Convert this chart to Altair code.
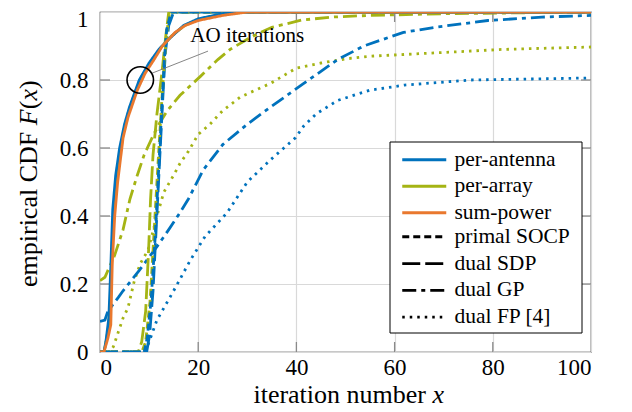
import altair as alt
import pandas as pd

BLUE = "#0072bd"
GREEN = "#a5b414"
ORANGE = "#e9782e"
FONT = "Liberation Serif"

powers = ["per-antenna", "per-array", "sum-power"]
power_colors = [BLUE, GREEN, ORANGE]
styles = ["AO", "primal SOCP", "dual SDP", "dual GP", "dual FP [4]"]
style_dashes = [[1, 0], [7, 4], [18, 5], [14, 5, 4, 5], [2.5, 5]]
x_ticks = [0, 20, 40, 60, 80, 100]
y_ticks = [0, 0.2, 0.4, 0.6, 0.8, 1]

# per-antenna
pa_fp_x = [0, 9.0, 9.5, 11.6, 15, 18.4, 21.4, 25.9, 30, 34.7, 39.8, 41.5, 44, 48.4, 55, 62, 75.5, 88, 100]
pa_fp_y = [0, 0, 0.01, 0.094, 0.18, 0.27, 0.34, 0.41, 0.50, 0.565, 0.63, 0.665, 0.70, 0.74, 0.77, 0.785, 0.80, 0.803, 0.806]
pa_gp_x = [0, 1, 1.6, 3.7, 4.7, 8, 11.6, 14, 16.3, 18, 21, 25, 30, 34.7, 41.5, 48.4, 53.7, 61.8, 68.7, 79, 90, 100]
pa_gp_y = [0.09, 0.094, 0.12, 0.16, 0.18, 0.24, 0.31, 0.36, 0.41, 0.45, 0.535, 0.61, 0.67, 0.72, 0.79, 0.86, 0.90, 0.94, 0.956, 0.975, 0.985, 0.99]
pa_sdp_x = [0, 9.5, 10.1, 10.8, 11.5, 12.2, 12.8, 13.3, 14, 15, 100]
pa_sdp_y = [0, 0, 0.05, 0.18, 0.38, 0.58, 0.75, 0.88, 0.96, 1, 1]
pa_socp_x = [0, 9.0, 9.6, 10.4, 11.2, 12, 12.6, 13.1, 13.6, 14.5, 100]
pa_socp_y = [0, 0, 0.04, 0.15, 0.33, 0.55, 0.72, 0.86, 0.95, 1, 1]
pa_ao_x = [0, 0.8, 1.2, 1.8, 2.2, 2.6, 3.2, 4, 5, 6, 7, 8, 10, 12, 14, 17, 20, 25, 30, 100]
pa_ao_y = [0, 0, 0.03, 0.1, 0.25, 0.42, 0.52, 0.6, 0.67, 0.72, 0.76, 0.8, 0.85, 0.89, 0.92, 0.96, 0.98, 0.995, 1, 1]

# per-array
pr_fp_x = [0, 2, 2.7, 4.7, 5.7, 7, 8.2, 9.8, 11.6, 13, 15, 16.3, 18, 20, 22.4, 25, 28.6, 34.7, 40, 45, 50, 55, 68.7, 82, 100]
pr_fp_y = [0, 0, 0.015, 0.1, 0.13, 0.21, 0.26, 0.3, 0.4, 0.47, 0.52, 0.555, 0.59, 0.64, 0.67, 0.71, 0.75, 0.79, 0.835, 0.85, 0.862, 0.87, 0.88, 0.89, 0.897]
pr_gp_x = [0, 1, 3, 4.7, 6.1, 7.6, 9, 10.6, 12, 13.7, 16.3, 20.4, 24, 26.5, 30, 32.7, 35, 38.8, 41, 47, 55, 70, 100]
pr_gp_y = [0.21, 0.22, 0.285, 0.36, 0.45, 0.52, 0.58, 0.63, 0.67, 0.71, 0.755, 0.81, 0.86, 0.89, 0.92, 0.94, 0.955, 0.968, 0.976, 0.985, 0.99, 0.995, 1.0]
pr_sdp_x = [0, 7.8, 8.5, 9.3, 9.9, 10.3, 10.8, 11.6, 12.6, 13.4, 14, 100]
pr_sdp_y = [0, 0, 0.03, 0.12, 0.3, 0.45, 0.58, 0.7, 0.82, 0.93, 1, 1]
pr_socp_x = [0, 8.5, 9.3, 10.2, 11, 11.8, 12.5, 13.1, 13.6, 14.2, 100]
pr_socp_y = [0, 0, 0.03, 0.15, 0.35, 0.55, 0.72, 0.85, 0.94, 1, 1]
pr_ao_x = [0, 0.8, 1.1, 1.7, 2.2, 2.55, 3.1, 3.8, 4.8, 5.8, 7.2, 8.5, 10.5, 12.4, 14.6, 17.2, 20, 25, 30, 100]
pr_ao_y = [0, 0, 0.02, 0.07, 0.17, 0.34, 0.46, 0.55, 0.65, 0.705, 0.765, 0.81, 0.855, 0.895, 0.93, 0.96, 0.978, 0.993, 1, 1]

# sum-power
sp_ao_x = [0, 0.8, 1.0, 1.6, 2.2, 2.5, 3.0, 3.6, 4.7, 5.7, 7.6, 9.2, 11, 12.7, 15.3, 17.3, 20, 25, 30, 100]
sp_ao_y = [0, 0, 0.01, 0.04, 0.08, 0.26, 0.4, 0.5, 0.63, 0.69, 0.77, 0.82, 0.86, 0.9, 0.94, 0.96, 0.975, 0.99, 1, 1]

series = [
    ("per-antenna", "dual FP [4]", pa_fp_x, pa_fp_y),
    ("per-array", "dual FP [4]", pr_fp_x, pr_fp_y),
    ("per-antenna", "dual GP", pa_gp_x, pa_gp_y),
    ("per-array", "dual GP", pr_gp_x, pr_gp_y),
    ("per-array", "dual SDP", pr_sdp_x, pr_sdp_y),
    ("per-antenna", "dual SDP", pa_sdp_x, pa_sdp_y),
    ("per-array", "primal SOCP", pr_socp_x, pr_socp_y),
    ("per-antenna", "primal SOCP", pa_socp_x, pa_socp_y),
    ("per-array", "AO", pr_ao_x, pr_ao_y),
    ("per-antenna", "AO", pa_ao_x, pa_ao_y),
    ("sum-power", "AO", sp_ao_x, sp_ao_y),
]

rows = []
for k, (p, s, xs_, ys_) in enumerate(series):
    for i, (a, b) in enumerate(zip(xs_, ys_)):
        rows.append(dict(key=k, power=p, style=s, x=a, y=b, i=i))
df = pd.DataFrame(rows)

# annotation
circle_pt = pd.DataFrame({"x": [8.2], "y": [0.8]})
leader = pd.DataFrame({"x": [10.6], "y": [0.82], "x2": [22.0], "y2": [0.885]})
label = pd.DataFrame({"x": [18.4], "y": [0.928], "t": ["AO iterations"]})

# axis title pieces
x_title = ["iteration number", "x"]
y_title = ["empirical CDF", "F", "(", "x", ")"]
y_italic = [False, True, False, True, False]

xs = alt.Scale(domain=[0, 100], nice=False)
ys = alt.Scale(domain=[0, 1], nice=False)
x_enc = alt.X("x:Q", scale=xs, axis=alt.Axis(values=x_ticks, title=None, labelPadding=4))
y_enc = alt.Y("y:Q", scale=ys, axis=alt.Axis(
    values=y_ticks, format="~g", title=None, labelPadding=12,
    labelBaseline={"condition": {"test": "datum.value === 1", "value": "top"}, "value": "middle"},
    labelOffset={"condition": {"test": "datum.value === 1", "value": -4}, "value": 0},
))

# inward tick marks (10 px long), built from the tick values
TX = 10 / 340.0
TYX = 10 / 4.91
inner_x = x_ticks[1:-1]
inner_y = y_ticks[1:-1]
tick_df = pd.DataFrame(
    [dict(x=t, x2=t, y=0, y2=TX) for t in inner_x]
    + [dict(x=t, x2=t, y=1, y2=1 - TX) for t in inner_x]
    + [dict(x=0, x2=TYX, y=t, y2=t) for t in inner_y]
    + [dict(x=100, x2=100 - TYX, y=t, y2=t) for t in inner_y]
)
ticks = alt.Chart(tick_df).mark_rule(color="#8a8a8a", strokeWidth=1.3).encode(
    x=alt.X("x:Q", scale=xs), x2="x2:Q", y=alt.Y("y:Q", scale=ys), y2="y2:Q")

SYM = "M-1,0L7,0"

lines = alt.Chart(df).mark_line(strokeWidth=2.8, clip=True).encode(
    x=x_enc,
    y=y_enc,
    color=alt.Color("power:N", scale=alt.Scale(domain=powers, range=power_colors),
                    legend=alt.Legend(title=None, orient="none", legendX=297, legendY=137,
                                      symbolType=SYM, symbolSize=121, symbolStrokeWidth=3,
                                      labelOffset=36, rowPadding=3.5, padding=0)),
    strokeDash=alt.StrokeDash("style:N", scale=alt.Scale(domain=styles, range=style_dashes),
                              legend=alt.Legend(title=None, orient="none", legendX=297, legendY=214,
                                                values=styles[1:],
                                                symbolType=SYM, symbolSize=121, symbolStrokeWidth=2.8,
                                                symbolStrokeColor="black",
                                                labelOffset=36, rowPadding=3.8, padding=0)),
    detail="key:N",
    order="i:Q",
)

circ = alt.Chart(circle_pt).mark_point(shape="circle", size=700, filled=False,
                                       color="black", strokeWidth=1.6, opacity=1).encode(
    x=alt.X("x:Q", scale=xs), y=alt.Y("y:Q", scale=ys))
lead = alt.Chart(leader).mark_rule(color="#777777", strokeWidth=0.9).encode(
    x=alt.X("x:Q", scale=xs), y=alt.Y("y:Q", scale=ys), x2="x2:Q", y2="y2:Q")
txt = alt.Chart(label).mark_text(align="left", baseline="middle", font=FONT, fontSize=21,
                                 color="black").encode(
    x=alt.X("x:Q", scale=xs), y=alt.Y("y:Q", scale=ys), text="t:N")

frame = alt.Chart(label).mark_rect(fill="white", stroke="black", strokeWidth=1).encode(
    x=alt.value(290), x2=alt.value(482), y=alt.value(130), y2=alt.value(321))

one = pd.DataFrame({"a": [0]})
TS = 26

xt1 = alt.Chart(one).mark_text(text=x_title[0], font=FONT, fontSize=TS, color="black",
                               align="right", baseline="middle").encode(
    x=alt.value(326), y=alt.value(383))
xt2 = alt.Chart(one).mark_text(text=x_title[1], font=FONT, fontSize=TS, color="black",
                               fontStyle="italic", align="left", baseline="middle").encode(
    x=alt.value(332.5), y=alt.value(383))

# y title pieces stacked upward (angle 270); advance widths (px) from Times metrics at 26px
y_adv = [155.3 + 6.5, 15.9, 8.7, 11.5, 8.7]
yt = []
acc = 275.0
for t, it, w in zip(y_title, y_italic, y_adv):
    yt.append(alt.Chart(one).mark_text(text=t, font=FONT, fontSize=TS, color="black",
                                       fontStyle="italic" if it else "normal",
                                       angle=270, align="left", baseline="middle").encode(
        x=alt.value(-71), y=alt.value(acc)))
    acc -= w

chart = alt.layer(ticks, lines, lead, circ, txt, frame, xt1, xt2, *yt).properties(
    width=491, height=340,
    autosize=alt.AutoSizeParams(type="none"),
    padding={"left": 92, "top": 4, "right": 33, "bottom": 60},
).configure_view(stroke="#262626", strokeWidth=1.2).configure_axis(
    grid=True, gridColor="#d9d9d9", gridWidth=1.2, domain=False, ticks=False,
    labelFont=FONT, labelFontSize=23, labelColor="black",
).configure_legend(
    labelFont=FONT, labelFontSize=21.5, labelColor="black", labelLimit=300,
)

chart.save("out.html", embed_options={"renderer": "svg", "actions": False})
